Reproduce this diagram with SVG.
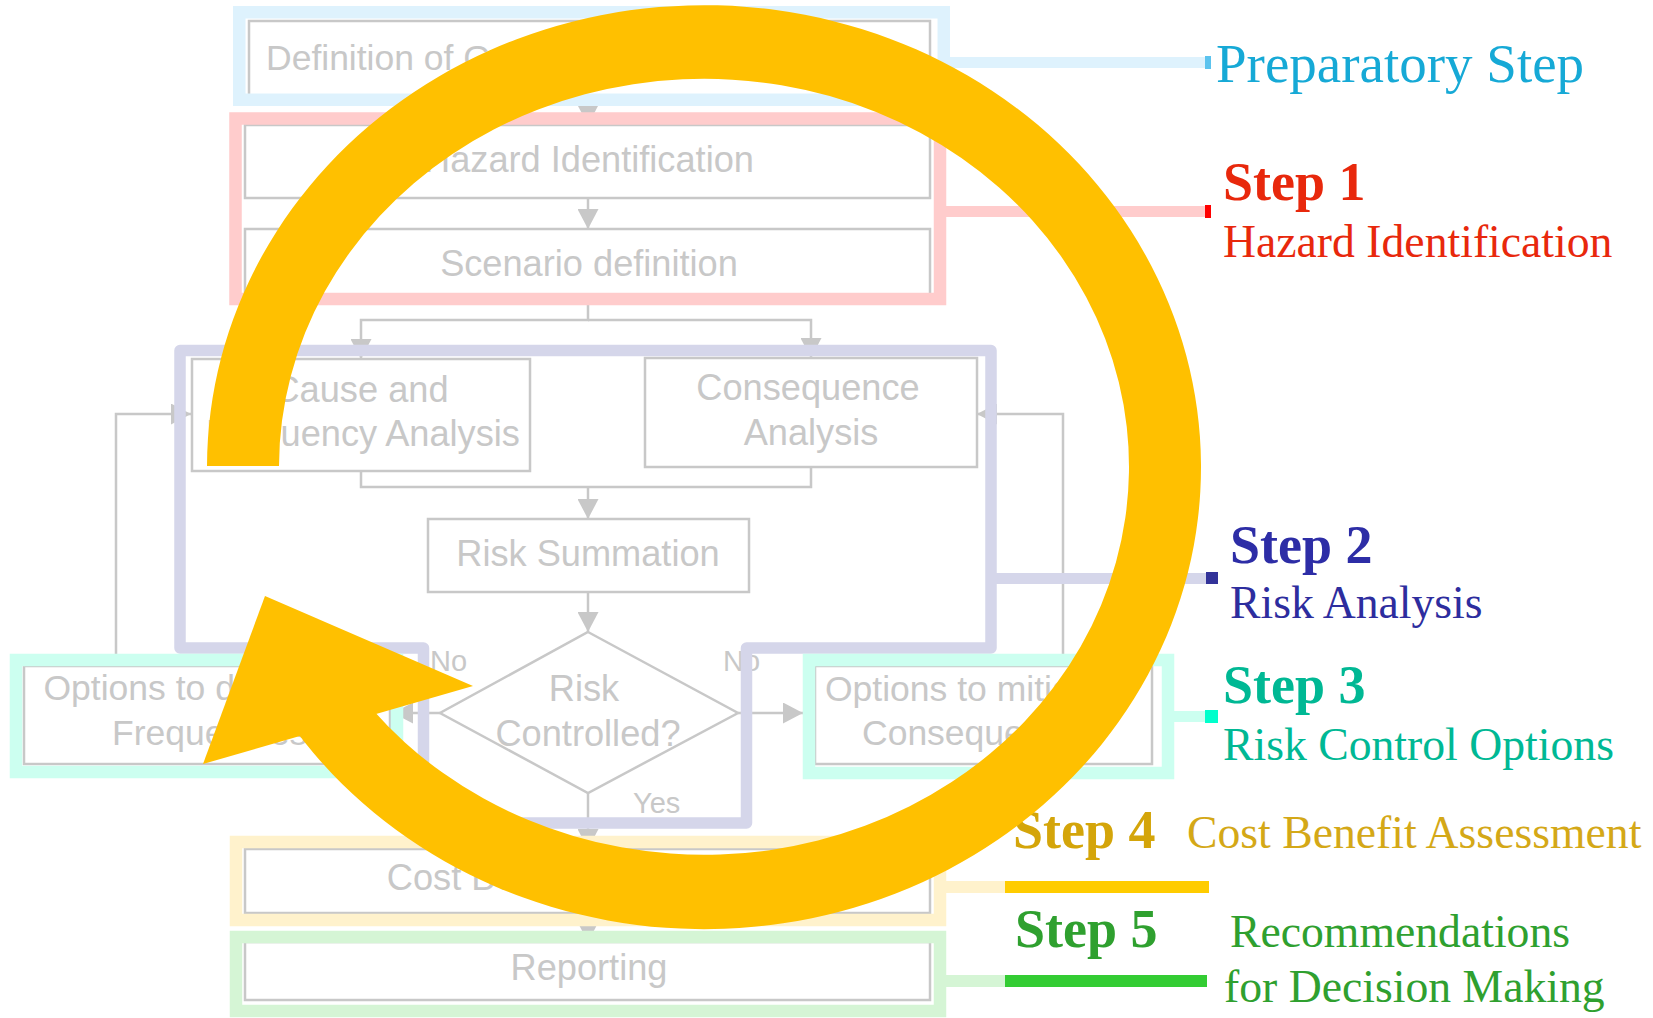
<svg xmlns="http://www.w3.org/2000/svg" width="1653" height="1018" viewBox="0 0 1653 1018">
<defs>
<style>
.box{fill:#fff;stroke:#c8c8c8;stroke-width:2.5}
.bt{font-family:"Liberation Sans",Arial,sans-serif;font-size:36.2px;fill:#c8c8c8;text-anchor:middle}
.bs{font-family:"Liberation Sans",Arial,sans-serif;font-size:35.5px;fill:#c8c8c8}
.lbl{font-family:"Liberation Sans",Arial,sans-serif;font-size:29px;fill:#c8c8c8}
.cn{fill:none;stroke:#c8c8c8;stroke-width:2.5}
.ar{marker-end:url(#ah)}
.fr{fill:none;stroke-width:12.5}
.st{font-family:"Liberation Serif","Times New Roman",serif;font-weight:bold;font-size:54px}
.sub{font-family:"Liberation Serif","Times New Roman",serif;font-size:45.7px}
</style>
<marker id="ah" viewBox="0 0 20 21" refX="20" refY="10.5" markerWidth="20" markerHeight="21" markerUnits="userSpaceOnUse" orient="auto"><path d="M0,0 L20,10.5 L0,21 Z" fill="#c8c8c8"/></marker>
</defs>
<rect x="0" y="0" width="1653" height="1018" fill="#fff"/>

<g id="nodes">
<g id="n-definition"><rect class="box" x="249" y="21" width="681" height="76"/><text class="bs" x="266" y="70">Definition of Goals, Systems, Operations</text></g>
<g id="n-hazard"><rect class="box" x="245" y="125" width="685" height="73"/><text class="bt" x="589" y="172">Hazard Identification</text></g>
<g id="n-scenario"><rect class="box" x="245" y="229" width="685" height="70"/><text class="bt" x="589" y="276">Scenario definition</text></g>
<g id="n-cause"><rect class="box" x="192" y="359" width="338" height="112"/><text class="bt" x="361" y="402">Cause and</text><text class="bt" x="363" y="446">Frequency Analysis</text></g>
<g id="n-consequence"><rect class="box" x="645" y="358" width="332" height="109"/><text class="bt" x="808" y="400">Consequence</text><text class="bt" x="811" y="445">Analysis</text></g>
<g id="n-risksum"><rect class="box" x="428" y="519" width="321" height="73"/><text class="bt" x="588" y="566">Risk Summation</text></g>
<g id="n-decision"><polygon class="box" points="588,632 738,713 588,793 440,713"/><text class="bt" x="584" y="701">Risk</text><text class="bt" x="588" y="746">Controlled?</text></g>
<g id="n-opt-freq"><rect class="box" x="24" y="666" width="366" height="98"/><text class="bs" x="43.5" y="700">Options to decrease</text><text class="bs" x="112" y="745">Frequencies</text></g>
<g id="n-opt-cons"><rect class="box" x="815" y="666" width="337" height="98"/><text class="bs" x="825" y="701">Options to mitigate</text><text class="bs" x="862" y="745">Consequences</text></g>
<g id="n-cba"><rect class="box" x="245" y="849" width="685" height="64"/><text class="bt" x="588" y="890">Cost Benefit Assessment</text></g>
<g id="n-report"><rect class="box" x="245" y="942" width="685" height="58"/><text class="bt" x="589" y="980">Reporting</text></g>
</g>

<g id="connectors">
<path class="cn ar" d="M588,97 V125"/>
<path class="cn ar" d="M588,198 V229"/>
<path class="cn ar" d="M588,299 V320 H361 V359"/>
<path class="cn ar" d="M588,320 H811 V358"/>
<path class="cn" d="M361,471 V487 H811 V467"/>
<path class="cn ar" d="M588,487 V519"/>
<path class="cn ar" d="M588,592 V632"/>
<path class="cn ar" d="M440,713 H393"/>
<path class="cn ar" d="M738,713 H803"/>
<path class="cn ar" d="M588,793 V849"/>
<path class="cn ar" d="M588,913 V942"/>
<path class="cn ar" d="M116,666 V414 H191"/>
<path class="cn ar" d="M1063,666 V414 H977"/>
<text class="lbl" x="430" y="671">No</text>
<text class="lbl" x="723" y="671">No</text>
<text class="lbl" x="633" y="813">Yes</text>
</g>

<g id="step-frames">
<rect class="fr" x="239.25" y="12.25" width="704.5" height="87.5" stroke="#def2fd"/>
<rect class="fr" x="235.5" y="118.5" width="704.5" height="180.5" stroke="#ffcccc"/>
<path d="M180,350.5 H991 V648 H746.5 V823 H423.5 V648 H180 Z" fill="none" stroke="#d5d6ea" stroke-width="11.5" stroke-linejoin="round"/>
<rect class="fr" x="16" y="660" width="381" height="112" stroke="#ccfff0"/>
<rect class="fr" x="809" y="660" width="359" height="113" stroke="#ccfff0"/>
<rect class="fr" x="236" y="842" width="704" height="78" stroke="#fff2cc"/>
<rect class="fr" x="236" y="937" width="704" height="74" stroke="#d5f5d5"/>
<rect x="950" y="57" width="255" height="11" fill="#def2fd"/><rect x="1205" y="56" width="6" height="13" fill="#5cc3ee"/>
<rect x="946" y="206" width="259" height="11" fill="#ffcccc"/><rect x="1205" y="205" width="6" height="13" fill="#ff0000"/>
<rect x="996" y="573" width="210" height="11" fill="#d5d6ea"/><rect x="1206" y="572" width="12" height="12" fill="#333399"/>
<rect x="1174" y="711" width="31" height="11" fill="#ccfff0"/><rect x="1205" y="710" width="13" height="13" fill="#00ffcc"/>
<rect x="946" y="881" width="59" height="12" fill="#fff2cc"/><rect x="1005" y="881" width="204" height="12" fill="#ffcc00"/>
<rect x="946" y="975" width="59" height="12" fill="#d5f5d5"/><rect x="1005" y="975" width="202" height="12" fill="#33cc33"/>
</g>

<g id="step-labels">
<text class="sub" x="1216" y="82" fill="#16a9d6" style="font-size:55px">Preparatory Step</text>
<text class="st" x="1223" y="200" fill="#e8280c">Step 1</text>
<text class="sub" x="1223" y="257" fill="#e8280c">Hazard Identification</text>
<text class="st" x="1230" y="563" fill="#2d2da6">Step 2</text>
<text class="sub" x="1230" y="618" fill="#2d2d9e">Risk Analysis</text>
<text class="st" x="1223" y="703" fill="#00b894">Step 3</text>
<text class="sub" x="1223" y="760" fill="#00b894">Risk Control Options</text>
<text class="st" x="1013" y="848" fill="#d4a50a">Step 4</text>
<text class="sub" x="1187" y="848" fill="#d4a817">Cost Benefit Assessment</text>
<text class="st" x="1015" y="947" fill="#2fa02f">Step 5</text>
<text class="sub" x="1230" y="947" fill="#2fa02f">Recommendations</text>
<text class="sub" x="1224" y="1002" fill="#2fa02f">for Decision Making</text>
</g>

<g id="cycle-arrow" fill="#ffc000">
<path d="M207,466 A497,462 0 1 1 296,731 L372,709 A425,388 0 1 0 279,466 Z"/>
<polygon points="265,596 473,686 203,764"/>
</g>
</svg>
